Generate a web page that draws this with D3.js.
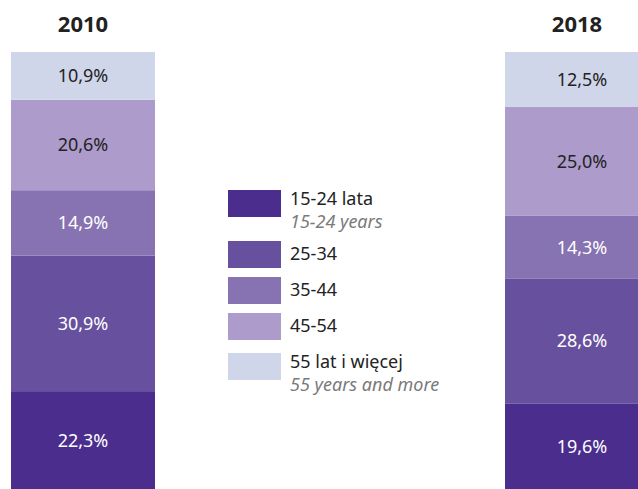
<!DOCTYPE html>
<meta charset="utf-8">
<style>
body{
	margin:0;
	background:#fff;
	font-family:"Noto Sans", sans-serif;
}
svg{display:block;}
</style>
<script src="https://cdn.jsdelivr.net/npm/d3@7"></script>
<div id="chart"></div>

<script>

// age groups, bottom to top
var groups = ["15-24", "25-34", "35-44", "45-54", "55+"]
var groupLabels = ["15-24 lata", "25-34", "35-44", "45-54", "55 lat i więcej"]
var groupLabelsEn = ["15-24 years", "", "", "", "55 years and more"]
var colors = ["#4b2d8e", "#67509e", "#8773b1", "#ad9bcb", "#cfd6ea"]
var textColors = ["#fff", "#fff", "#fff", "#222", "#222"]

var years = ["2010", "2018"]
var values2010 = [22.3, 30.9, 14.9, 20.6, 10.9]
var values2018 = [19.6, 28.6, 14.3, 25.0, 12.5]

var width = 638, height = 489

var svg = d3.select("#chart").append("svg")
	.attr("width", width).attr("height", height)

var x = d3.scaleBand().domain(years).range([11, 649]).paddingInner(0.7085).paddingOuter(0)

function fmt(v){
	return v.toFixed(1).replace(".", ",") + "%"
}

var series = [values2010, values2018]

years.forEach(function(year, j){
	var vals = series[j]
	// each bar fills the full height (rounded shares)
	var y = d3.scaleLinear().domain([0, d3.sum(vals)]).range([489, 52])
	var acc = 0
	var segs = vals.map(function(v, i){
		var s = {v:v, i:i, y0:acc, y1:acc+v}
		acc += v
		return s
	})
	var g = svg.append("g")

	g.selectAll("rect").data(segs).enter().append("rect")
		.attr("x", x(year))
		.attr("width", x.bandwidth())
		.attr("y", function(d){ return y(d.y1) })
		.attr("height", function(d){ return y(d.y0) - y(d.y1) })
		.attr("fill", function(d){ return colors[d.i] })

	g.selectAll("text.val").data(segs).enter().append("text")
		.attr("class", "val")
		.attr("x", x(year) + x.bandwidth()/2 + (j==1 ? 5 : 0))
		.attr("y", function(d){ return (y(d.y0) + y(d.y1))/2 })
		.attr("dy", "0.36em")
		.attr("text-anchor", "middle")
		.attr("font-size", 18)
		.attr("fill", function(d){ return textColors[d.i] })
		.text(function(d){ return fmt(d.v) })

	svg.append("text")
		.attr("x", x(year) + x.bandwidth()/2)
		.attr("y", 32)
		.attr("text-anchor", "middle")
		.attr("font-size", 22)
		.attr("font-weight", "bold")
		.attr("fill", "#222")
		.text(year)
})

// legend, top to bottom
var legendTop = [190, 241, 277, 313, 353]
var lg = svg.append("g")
groups.forEach(function(grp, i){
	var top = legendTop[i]
	var two = groupLabelsEn[i] != ""
	lg.append("rect")
		.attr("x", 228).attr("y", top)
		.attr("width", 53).attr("height", 27)
		.attr("fill", colors[i])
	lg.append("text")
		.attr("x", 290).attr("y", top + (two ? 15 : 19))
		.attr("font-size", 18)
		.attr("fill", "#222")
		.text(groupLabels[i])
	if (two) {
		lg.append("text")
			.attr("x", 290).attr("y", top + 38)
			.attr("font-size", 18)
			.attr("font-style", "italic")
			.attr("fill", "#7a7a7a")
			.text(groupLabelsEn[i])
	}
})

</script>
